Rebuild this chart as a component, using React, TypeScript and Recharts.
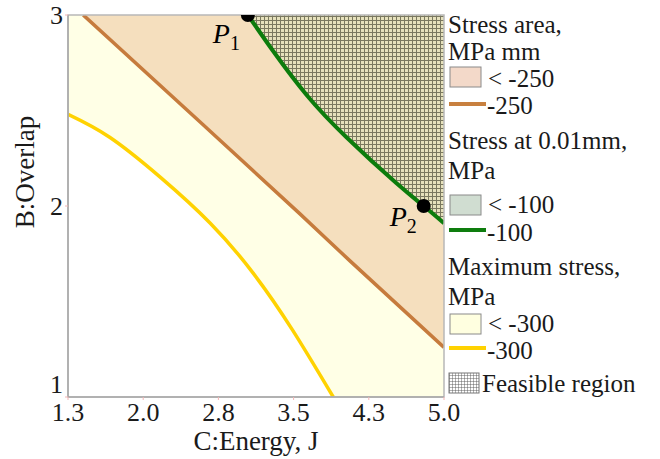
import React from 'react';
import {
  ComposedChart,
  Area,
  Scatter,
  XAxis,
  YAxis,
  ReferenceArea,
  LabelList,
} from 'recharts';

// C:Energy (J) axis ticks, printed with one decimal
const energyTicks = [1.3, 2.04, 2.78, 3.52, 4.26, 5.0];
const overlapTicks = [1, 2, 3];

// whole design space, shaded as "maximum stress < -300"
const designSpace = [
  { x: 1.3, y: 3 },
  { x: 5.0, y: 3 },
];

// Maximum stress = -300 MPa contour
const maxStressContour = [
  { x: 1.3, y: 2.48 },
  { x: 1.71, y: 2.36 },
  { x: 2.21, y: 2.15 },
  { x: 2.7, y: 1.91 },
  { x: 3.12, y: 1.65 },
  { x: 3.51, y: 1.35 },
  { x: 3.91, y: 1.0 },
];

// Stress area = -250 MPa mm contour
const stressAreaContour = [
  { x: 1.45, y: 3 },
  { x: 2.6, y: 2.44 },
  { x: 3.58, y: 1.96 },
  { x: 4.08, y: 1.71 },
  { x: 5.0, y: 1.26 },
];

// Stress at 0.01mm = -100 MPa contour
const surfaceStressContour = [
  { x: 3.07, y: 3 },
  { x: 3.32, y: 2.81 },
  { x: 3.65, y: 2.58 },
  { x: 4.04, y: 2.36 },
  { x: 4.53, y: 2.12 },
  { x: 4.8, y: 2.0 },
  { x: 5.0, y: 1.91 },
];

const optimumPoints = [
  { x: 3.07, y: 3, sub: '1' },
  { x: 4.8, y: 2.0, sub: '2' },
];

const legendGroups = [
  { title: ['Stress area,', 'MPa mm'], boxText: '< -250', lineText: '-250', fill: '#F3D9C9', stroke: '#C8803F' },
  { title: ['Stress at 0.01mm,', 'MPa'], boxText: '< -100', lineText: '-100', fill: '#D0DDD1', stroke: '#0E7D0E' },
  { title: ['Maximum stress,', 'MPa'], boxText: '< -300', lineText: '-300', fill: '#FFFFE0', stroke: '#FFD200' },
];
const feasibleLabel = 'Feasible region';

const FONT =
  "'Liberation Serif', 'Times New Roman', Times, Tinos, 'Noto Serif', 'Nimbus Roman', FreeSerif, 'DejaVu Serif', serif";
const INK = '#1a1a1a';
const textStyle = { fontFamily: FONT };

function XTitle({ viewBox }: any) {
  const { x, y, width, height } = viewBox;
  return (
    <text x={x + width / 2} y={y + height - 9} textAnchor="middle" style={textStyle} fontSize={27} fill={INK}>
      C:Energy, J
    </text>
  );
}

function YTitle({ viewBox }: any) {
  const { x, y, height } = viewBox;
  const cx = x + 25;
  const cy = y + height / 2 - 34;
  return (
    <text
      x={cx}
      y={cy}
      transform={`rotate(-90 ${cx} ${cy})`}
      textAnchor="middle"
      dominantBaseline="central"
      style={textStyle}
      fontSize={27}
      fill={INK}
    >
      B:Overlap
    </text>
  );
}

// lowest overlap label sits just above the corner, as in the original plot
function OverlapTick({ x, y, payload }: any) {
  const lift = payload.value === overlapTicks[0] ? -13 : 0;
  return (
    <text x={x} y={y + lift} dy="0.355em" textAnchor="end" style={textStyle} fontSize={26} fill={INK}>
      {payload.value}
    </text>
  );
}

function EnergyTick({ x, y, payload }: any) {
  return (
    <text x={x} y={y + 1} dy="0.71em" textAnchor="middle" style={textStyle} fontSize={26} fill={INK}>
      {Number(payload.value).toFixed(1)}
    </text>
  );
}

const labelOffsets: Record<string, [number, number]> = { '1': [-35, 28], '2': [-34, 20] };

function PointLabel(props: any) {
  const { x, y, width, height, index } = props;
  const p = optimumPoints[index];
  const [dx, dy] = labelOffsets[p.sub];
  const cx = x + width / 2;
  const cy = y + height / 2;
  return (
    <text x={cx + dx} y={cy + dy} style={textStyle} fontStyle="italic" fontSize={28} fill="#000">
      P
      <tspan fontSize={20} fontStyle="normal" dy={7}>
        {p.sub}
      </tspan>
    </text>
  );
}

const legendRows = [
  { t1: 33, t2: 60, box: 67, boxText: 87, line: 104, lineText: 114 },
  { t1: 149, t2: 179, box: 195, boxText: 213, line: 230, lineText: 241 },
  { t1: 275, t2: 305, box: 314, boxText: 332, line: 348, lineText: 359 },
];

function ContourLegend() {
  const left = 8;
  return (
    <svg width={220} height={459} style={{ position: 'absolute', left: 440, top: 0 }}>
      <defs>
        <pattern id="legendHatch" width={3} height={3} patternUnits="userSpaceOnUse">
          <rect width={3} height={3} fill="#fff" />
          <path d="M0 0 H3 M0 0 V3" stroke="#555" strokeWidth={0.9} />
        </pattern>
      </defs>
      {legendGroups.map((g, i) => {
        const r = legendRows[i];
        return (
          <g key={g.lineText} style={textStyle} fontSize={25} fill={INK}>
            <text x={left} y={r.t1}>{g.title[0]}</text>
            <text x={left} y={r.t2}>{g.title[1]}</text>
            <rect x={left + 2} y={r.box} width={31} height={20} fill={g.fill} stroke="#8a8a8a" strokeWidth={1} />
            <text x={left + 40} y={r.boxText}>{g.boxText}</text>
            <line x1={left + 1} x2={left + 38} y1={r.line} y2={r.line} stroke={g.stroke} strokeWidth={4} />
            <text x={left + 39} y={r.lineText}>{g.lineText}</text>
          </g>
        );
      })}
      <rect x={left + 1} y={373} width={30} height={20} fill="url(#legendHatch)" stroke="#777" strokeWidth={1} />
      <text x={left + 34} y={392} style={textStyle} fontSize={25} fill={INK}>
        {feasibleLabel}
      </text>
    </svg>
  );
}

export default function App() {
  return (
    <div style={{ position: 'absolute', left: 0, top: 0, width: 660, height: 459, background: '#fff', fontFamily: FONT }}>
      <ComposedChart width={660} height={459} margin={{ top: 15, right: 216, bottom: 0, left: 0 }}>
        <defs>
          <pattern id="feasibleHatch" width={4} height={4} patternUnits="userSpaceOnUse">
            <rect width={4} height={4} fill="#E6E1BC" />
            <path d="M0.5 0 V4 M0 0.5 H4" stroke="#7A785F" strokeWidth={1} />
          </pattern>
        </defs>
        <XAxis
          type="number"
          dataKey="x"
          domain={[1.3, 5.0]}
          ticks={energyTicks}
          allowDataOverflow
          height={62}
          tick={<EnergyTick />}
          tickSize={3}
          tickMargin={2}
          tickLine={{ stroke: '#f2b5b5' }}
          axisLine={{ stroke: '#a9a9a9', strokeWidth: 1.5 }}
          label={<XTitle />}
        />
        <YAxis
          type="number"
          domain={[1, 3]}
          ticks={overlapTicks}
          allowDataOverflow
          width={68}
          tick={<OverlapTick />}
          tickSize={3}
          tickMargin={2}
          tickLine={{ stroke: '#f2b5b5' }}
          axisLine={{ stroke: '#a9a9a9', strokeWidth: 1.5 }}
          label={<YTitle />}
        />
        <Area
          data={designSpace}
          dataKey="y"
          type="linear"
          fill="#FFFFE6"
          fillOpacity={1}
          stroke="none"
          isAnimationActive={false}
        />
        <Area
          data={maxStressContour}
          dataKey="y"
          type="natural"
          fill="#ffffff"
          fillOpacity={1}
          stroke="#FFD200"
          strokeWidth={3.5}
          isAnimationActive={false}
        />
        <Area
          data={stressAreaContour}
          dataKey="y"
          type="natural"
          baseValue={3}
          fill="#F5DFBE"
          fillOpacity={1}
          stroke="#C67B3D"
          strokeWidth={3.5}
          isAnimationActive={false}
        />
        <Area
          data={surfaceStressContour}
          dataKey="y"
          type="natural"
          baseValue={3}
          fill="url(#feasibleHatch)"
          fillOpacity={1}
          stroke="#0C7C0C"
          strokeWidth={4}
          isAnimationActive={false}
        />
        <ReferenceArea x1={1.3} x2={5.0} y1={1} y2={3} fill="none" stroke="#b8b8b8" strokeWidth={1.5} ifOverflow="visible" />
        <Scatter
          data={optimumPoints}
          dataKey="y"
          isAnimationActive={false}
          shape={(p: any) => <circle cx={p.cx} cy={p.cy} r={7} fill="#000" />}
        >
          <LabelList dataKey="y" content={<PointLabel />} />
        </Scatter>
      </ComposedChart>
      <ContourLegend />
    </div>
  );
}
